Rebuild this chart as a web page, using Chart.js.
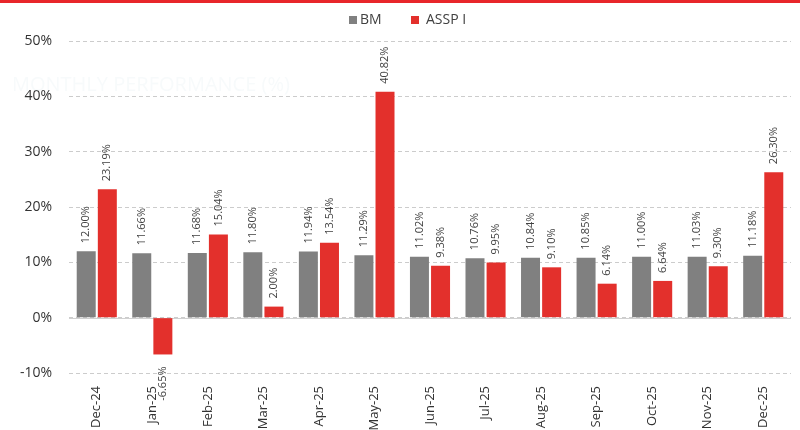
<!DOCTYPE html>
<html lang="en">
  <head>
    <meta charset="UTF-8" />
    <title>BM vs ASSP I</title>
    <script src="https://cdn.jsdelivr.net/npm/chart.js"></script>
    <style>
      html, body { margin: 0; padding: 0; background: #fff; }
      #wrap { width: 800px; height: 430px; position: relative; }
    </style>
  </head>
  <body>
    <div id="wrap"><canvas id="perfChart" width="800" height="430"></canvas></div>
    <script>
      const months = ["Dec-24", "Jan-25", "Feb-25", "Mar-25", "Apr-25", "May-25", "Jun-25",
                      "Jul-25", "Aug-25", "Sep-25", "Oct-25", "Nov-25", "Dec-25"];
      const bmValues = [12.00, 11.66, 11.68, 11.80, 11.94, 11.29, 11.02, 10.76, 10.84, 10.85, 11.00, 11.03, 11.18];
      const asspValues = [23.19, -6.65, 15.04, 2.00, 13.54, 40.82, 9.38, 9.95, 9.10, 6.14, 6.64, 9.30, 26.30];
      const yTicks = [-10, 0, 10, 20, 30, 40, 50];

      const GREY = "#808080";
      const RED = "#e3302c";
      const FONT = "'Open Sans', sans-serif";

      // red rule, faint watermark, zero line, value labels, legend
      const decorPlugin = {
        id: "decor",
        beforeDatasetsDraw(chart) {
          const ctx = chart.ctx;
          const area = chart.chartArea;
          const y = chart.scales.y;
          ctx.save();
          ctx.fillStyle = "rgba(215,228,236,0.2)";
          ctx.font = "20px " + FONT;
          ctx.textBaseline = "middle";
          ctx.fillText("MONTHLY PERFORMANCE (%)", 12, 85);
          // zero line solid
          const y0 = y.getPixelForValue(0);
          ctx.strokeStyle = "#d0d0d0";
          ctx.lineWidth = 1;
          ctx.beginPath();
          ctx.moveTo(area.left, Math.round(y0) + 0.5);
          ctx.lineTo(area.right, Math.round(y0) + 0.5);
          ctx.stroke();
          ctx.restore();
        },
        afterDraw(chart) {
          const ctx = chart.ctx;
          ctx.save();
          // top red rule
          ctx.fillStyle = "#e8262a";
          ctx.fillRect(0, 0, chart.width, 3);

          // value labels
          ctx.fillStyle = "#404040";
          ctx.font = "11px " + FONT;
          ctx.textBaseline = "middle";
          chart.data.datasets.forEach((ds, i) => {
            const meta = chart.getDatasetMeta(i);
            meta.data.forEach((bar, j) => {
              const v = ds.data[j];
              const txt = v.toFixed(2) + "%";
              ctx.save();
              if (v >= 0) {
                ctx.translate(bar.x, bar.y - 8);
                ctx.rotate(-Math.PI / 2);
                ctx.textAlign = "left";
              } else {
                ctx.translate(bar.x, bar.y + 12);
                ctx.rotate(-Math.PI / 2);
                ctx.textAlign = "right";
              }
              ctx.fillText(txt, 0, 0);
              ctx.restore();
            });
          });

          // legend
          ctx.font = "14px " + FONT;
          ctx.textAlign = "left";
          ctx.textBaseline = "middle";
          const ly = 20;
          ctx.fillStyle = GREY;
          ctx.fillRect(349, ly - 4, 8, 8);
          ctx.fillStyle = "#404040";
          ctx.fillText("BM", 360, ly);
          ctx.fillStyle = RED;
          ctx.fillRect(411, ly - 4, 8, 8);
          ctx.fillStyle = "#404040";
          ctx.fillText("ASSP I", 426, ly);
          ctx.restore();
        },
      };

      const ctx = document.getElementById("perfChart").getContext("2d");
      new Chart(ctx, {
        type: "bar",
        data: {
          labels: months,
          datasets: [
            { label: "BM", data: bmValues, backgroundColor: GREY, categoryPercentage: 0.76, barPercentage: 0.9 },
            { label: "ASSP I", data: asspValues, backgroundColor: RED, categoryPercentage: 0.76, barPercentage: 0.9 },
          ],
        },
        options: {
          responsive: false,
          animation: false,
          layout: { padding: { top: 41, left: 0, right: 9, bottom: 0 } },
          plugins: { legend: { display: false }, tooltip: { enabled: false } },
          scales: {
            x: {
              grid: { display: false },
              border: { display: false },
              ticks: {
                autoSkip: false,
                minRotation: 90,
                maxRotation: 90,
                padding: 5,
                color: "#333",
                font: { family: FONT, size: 13 },
              },
              afterFit(scale) { scale.height = 57; },
            },
            y: {
              min: -10,
              max: 50,
              afterBuildTicks(scale) { scale.ticks = yTicks.map(v => ({ value: v })); },
              grid: { color: "#cccccc", drawTicks: false, lineWidth: 1 },
              border: { display: false, dash: [4, 3] },
              ticks: {
                padding: 17,
                color: "#333",
                font: { family: FONT, size: 14 },
                callback: (v) => v + "%",
              },
              afterFit(scale) { scale.width = 69; },
            },
          },
        },
        plugins: [decorPlugin],
      });
    </script>
  </body>
</html>
